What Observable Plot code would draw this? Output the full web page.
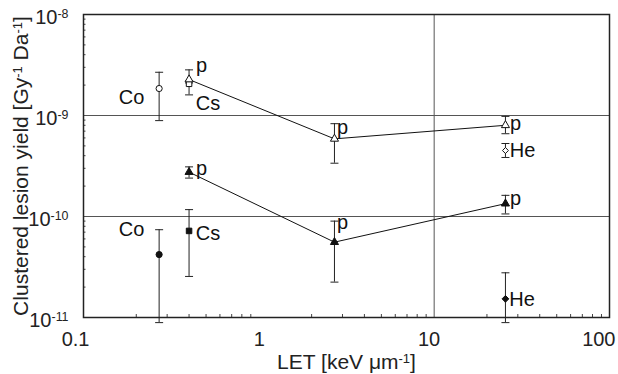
<!DOCTYPE html>
<html><head><meta charset="utf-8">
<script src="https://cdn.jsdelivr.net/npm/d3@7"></script>
<script src="https://cdn.jsdelivr.net/npm/@observablehq/plot@0.6"></script>
<style>body{margin:0;background:#fff}</style>
</head><body><div id="chart"></div>
<script>
// tick values
const xTicks = [0.1, 1, 10, 100];
const yTicks = [1e-11, 1e-10, 1e-9, 1e-8];
const xGrid = [10];
const yGrid = [1e-10, 1e-9];

// data points
const pointLET    = [0.27, 0.4, 0.4, 2.7, 25.5, 25.5, 0.27, 0.4, 0.4, 2.7, 25.5, 25.5];
const pointName   = ["Co", "Cs", "p", "p", "p", "He", "Co", "Cs", "p", "p", "p", "He"];
const pointGroup  = ["open", "open", "open", "open", "open", "open", "filled", "filled", "filled", "filled", "filled", "filled"];
const pointShape  = ["circle", "square", "triangle", "triangle", "triangle", "diamond2", "circle", "square", "triangle", "triangle", "triangle", "diamond2"];
const yieldValue  = [1.85e-9, 2.06e-9, 2.27e-9, 5.87e-10, 8.0e-10, 4.5e-10, 4.2e-11, 7.2e-11, 2.75e-10, 5.57e-11, 1.34e-10, 1.53e-11];
const yieldLow    = [0.89e-9, 1.6e-9, 2.1e-9, 3.37e-10, 6.6e-10, 3.84e-10, 8.9e-12, 2.55e-11, 2.4e-10, 2.24e-11, 1.06e-10, 8.9e-12];
const yieldHigh   = [2.68e-9, 2.2e-9, 2.83e-9, 8.3e-10, 9.8e-10, 5.28e-10, 7.4e-11, 1.17e-10, 3.1e-10, 9.0e-11, 1.62e-10, 2.77e-11];

// annotation labels
const labelText  = ["Co", "Cs", "p", "p", "p", "He", "Co", "Cs", "p", "p", "p", "He"];
const labelLET   = [0.188, 0.513, 0.471, 3.0, 29.1, 31.9, 0.188, 0.513, 0.471, 3.0, 29.1, 31.7];
const labelYield = [1.51e-9, 1.3e-9, 3.13e-9, 7.6e-10, 8.24e-10, 4.5e-10, 7.5e-11, 6.7e-11, 2.95e-10, 8.73e-11, 1.49e-10, 1.52e-11];

const points = pointLET.map((x, i) => ({
  x, y: yieldValue[i], lo: yieldLow[i], hi: yieldHigh[i],
  name: pointName[i], group: pointGroup[i], shape: pointShape[i]
}));
const caps = points.flatMap(d => [{x: d.x, y: d.lo}, {x: d.x, y: d.hi}]);
const labels = labelText.map((t, i) => ({t, x: labelLET[i], y: labelYield[i]}));
const pLine = points.filter(d => d.name === "p");

const xMinor = d3.scaleLog().domain([0.1, 100]).ticks().filter(v => !xTicks.includes(v));
const yMinor = d3.scaleLog().domain([1e-11, 1e-8]).ticks().filter(v => !yTicks.some(t => Math.abs(t - v) / v < 1e-6));

const capSymbol = {draw(ctx, size) { const w = Math.sqrt(size / Math.PI); ctx.moveTo(-w, 0); ctx.lineTo(w, 0); }};

const exp = v => "10" + "^" + Math.round(Math.log10(v));
const markerR = d => d.shape === "circle" ? 5.3 : d.shape === "triangle" ? 5 : d.shape === "square" ? 5.4 : (d.group === "open" ? 4 : 5.2);

const chart = Plot.plot({
  width: 618, height: 374,
  marginLeft: 83, marginRight: 9, marginTop: 14, marginBottom: 57,
  style: {fontFamily: "'Liberation Sans', Arial, sans-serif", fontSize: "20px", background: "#fff", color: "#222"},
  x: {type: "log", domain: [0.1, 100]},
  y: {type: "log", domain: [1e-11, 1e-8]},
  marks: [
    Plot.ruleY(yGrid, {stroke: "#555", strokeWidth: 1}),
    Plot.ruleX(xGrid, {stroke: "#555", strokeWidth: 1}),
    Plot.axisX({ticks: xTicks, tickSize: 0, tickFormat: d => String(d), tickPadding: 14, fontSize: 20,
      textAnchor: "end", dx: 6, label: null}),
    Plot.axisX({ticks: xMinor, tickSize: -3, text: null, label: null, stroke: "#444"}),
    Plot.axisY({ticks: yTicks, tickSize: 0, tickFormat: exp, tickPadding: 15, fontSize: 20, dy: 3,
      label: null}),
    Plot.axisY({ticks: yMinor, tickSize: -2.5, text: null, label: null, stroke: "#444"}),
    Plot.frame({stroke: "#222", strokeWidth: 1.5}),
    Plot.line(pLine, {filter: d => d.group === "open", x: "x", y: "y", stroke: "#111", strokeWidth: 1}),
    Plot.line(pLine, {filter: d => d.group === "filled", x: "x", y: "y", stroke: "#111", strokeWidth: 1}),
    Plot.ruleX(points, {x: "x", y1: "lo", y2: "hi", stroke: "#222", strokeWidth: 1}),
    Plot.dot(caps, {x: "x", y: "y", symbol: () => capSymbol, r: 4, stroke: "#222", strokeWidth: 1}),
    Plot.dot(points, {x: "x", y: "y", symbol: "shape", r: markerR,
      fill: d => d.group === "open" ? "#fff" : "#111", stroke: "#111", strokeWidth: 1}),
    Plot.text(labels, {x: "x", y: "y", text: "t", fontSize: 20, fill: "#111", textAnchor: "middle", lineAnchor: "middle"}),
    Plot.text(["LET [keV μm^-1]"], {frameAnchor: "bottom", dy: 45, fontSize: 21, fill: "#222", textAnchor: "middle", lineAnchor: "middle"}),
    Plot.text(["Clustered lesion yield [Gy^-1 Da^-1]"], {frameAnchor: "left", dx: -62, rotate: -90, fontSize: 21, fill: "#222", textAnchor: "middle", lineAnchor: "middle"})
  ]
});

document.getElementById("chart").appendChild(chart);

// render superscripts
d3.select(chart).selectAll("text").each(function() {
  const el = d3.select(this);
  const txt = this.textContent;
  if (!txt.includes("^")) return;
  const base = parseFloat(getComputedStyle(this).fontSize) || 20;
  const parts = txt.split(/(\^-?\d+)/);
  this.textContent = "";
  parts.forEach(p => {
    if (!p) return;
    if (p.startsWith("^")) {
      el.append("tspan").attr("baseline-shift", (0.3 * base).toFixed(1) + "px").attr("font-size", (0.62 * base).toFixed(1) + "px").text(p.slice(1));
    } else {
      el.append("tspan").text(p);
    }
  });
});
</script>
</body></html>
